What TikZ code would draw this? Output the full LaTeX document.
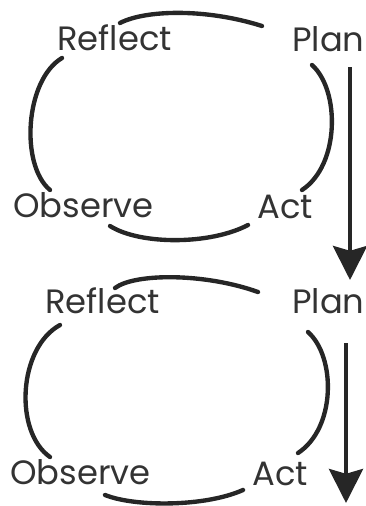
\documentclass[tikz,border=0pt]{standalone}
\usepackage{fontspec}
\setmainfont{Poppins}
\usepackage{tikz}
\usetikzlibrary{arrows.meta}

\begin{document}
\begin{tikzpicture}[x=0.025cm, y=-0.025cm,
    font=\fontsize{24}{29}\selectfont,
    lbl/.style={anchor=base west, inner sep=0pt, text=black!80},
    arc/.style={line width=3.1pt, black!85, line cap=round},
    down/.style={line width=3pt, black!85,
      -{Stealth[length=0.85cm, width=0.85cm, inset=0.12cm]}}]
  \useasboundingbox (0,0) rectangle (366,506);
  % first cycle
  \node[lbl] (reflectA) at (57,50) {Reflect};
  \node[lbl] (planA) at (292,51) {Plan};
  \node[lbl] (observeA) at (13,217) {Observe};
  \node[lbl] (actA) at (257,218) {Act};
  \draw[arc] (120,23) .. controls (145,10) and (205,8) .. (262,26);
  \draw[arc] (312,65) .. controls (340,90) and (340,165) .. (302,190);
  \draw[arc] (248,225) .. controls (210,245) and (140,245) .. (110,226);
  \draw[arc] (50,190) .. controls (20,165) and (25,80) .. (62,58);
  % second cycle
  \node[lbl] (reflectB) at (45,313) {Reflect};
  \node[lbl] (planB) at (292,313) {Plan};
  \node[lbl] (observeB) at (10,484) {Observe};
  \node[lbl] (actB) at (252,485) {Act};
  \draw[arc] (115,288) .. controls (135,273) and (205,273) .. (258,292);
  \draw[arc] (308,332) .. controls (336,357) and (336,428) .. (298,453);
  \draw[arc] (243,490) .. controls (205,507) and (135,507) .. (105,495);
  \draw[arc] (50,457) .. controls (14,432) and (18,348) .. (60,325);
  % arrows down
  \coordinate (fromA) at (350,67);
  \coordinate (toB) at (350,280);
  \coordinate (fromB) at (346,343);
  \coordinate (onward) at (346,503);
  \draw[down] (fromA) -- (toB);
  \draw[down] (fromB) -- (onward);
\end{tikzpicture}
\end{document}
